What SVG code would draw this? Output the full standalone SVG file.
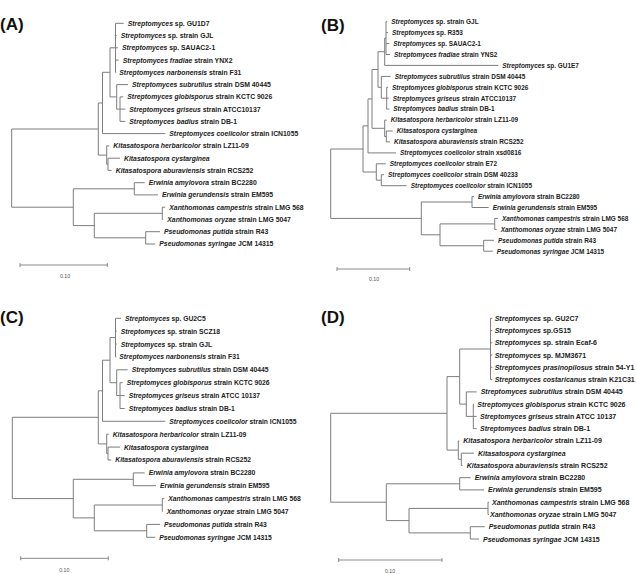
<svg xmlns="http://www.w3.org/2000/svg" width="636" height="574" viewBox="0 0 636 574">
<style>
.br{fill:none;stroke:#7d7d7d;stroke-width:1}
.sb{fill:none;stroke:#8a8a8a;stroke-width:1}
.t{font-family:"Liberation Sans",Arial,sans-serif;font-weight:bold;fill:#222}
.i{font-style:italic}
.pl{font-family:"Liberation Sans",Arial,sans-serif;font-weight:bold;font-size:17px;fill:#111}
.sl{font-family:"Liberation Sans",Arial,sans-serif;font-size:5.2px;fill:#555;text-anchor:middle}
.sA{font-size:6.85px}.sB{font-size:6.45px}.sC{font-size:6.75px}.sD{font-size:7px}
</style>
<rect width="636" height="574" fill="#fff"/>

<g id="panel-A">
<text class="pl" x="0" y="29.8">(A)</text>
<g id="A-connectors">
<path class="br" d="M11.7 129V207.2M11.7 129H98.3M11.7 207.2H73.3M98.3 103V155.1M98.3 103H102.5M98.3 155.1H106.7M102.5 72.3V133.6M102.5 72.3H110M102.5 133.6H165.3M110 47.8V96.9M110 47.8H115.5M110 96.9H116.7M115.5 23.3V72.3M115.5 23.3H123.7M115.5 35.6H116.7M115.5 47.8H118M115.5 60.1H118.7M115.5 72.3H116.3M116.7 84.6V109.1M116.7 84.6H128M116.7 109.1H120M120 96.9V121.4M120 96.9H123.3M120 109.1H125.3M120 121.4H125.3M106.7 145.9V164.3M106.7 145.9H109.3M106.7 164.3H108M108 158.2V170.4M108 158.2H120M108 170.4H111.7M73.3 188.8V225.6M73.3 188.8H134.3M73.3 225.6H94.3M134.3 182.7V194.9M134.3 182.7H144.7M134.3 194.9H158M94.3 213.3V237.8M94.3 213.3H162.3M94.3 237.8H145.7M162.3 207.2V219.5M162.3 207.2H165.3M162.3 219.5H163.3M145.7 231.7V244M145.7 231.7H160M145.7 244H155.3"/>
<path class="sb" d="M20 265H107.3M20 263V267M107.3 263V267"/>
</g>
<text class="sl" x="65" y="277.5">0.10</text>
<g id="A-leaves" class="t sA">
<text id="A1" x="127.7" y="25.75"><tspan class="i">Streptomyces</tspan> sp. GU1D7</text>
<text id="A2" x="120.7" y="38.05"><tspan class="i">Streptomyces</tspan> sp. strain GJL</text>
<text id="A3" x="122" y="50.25"><tspan class="i">Streptomyces</tspan> sp. SAUAC2-1</text>
<text id="A4" x="122.7" y="62.55"><tspan class="i">Streptomyces fradiae</tspan> strain YNX2</text>
<text id="A5" x="119.3" y="74.75"><tspan class="i">Streptomyces narbonensis</tspan> strain F31</text>
<text id="A6" x="132" y="87.05"><tspan class="i">Streptomyces subrutilus</tspan> strain DSM 40445</text>
<text id="A7" x="127.3" y="99.35"><tspan class="i">Streptomyces globisporus</tspan> strain KCTC 9026</text>
<text id="A8" x="129.3" y="111.55"><tspan class="i">Streptomyces griseus</tspan> strain ATCC10137</text>
<text id="A9" x="129.3" y="123.85"><tspan class="i">Streptomyces badius</tspan> strain DB-1</text>
<text id="A10" x="169.3" y="136.05"><tspan class="i">Streptomyces coelicolor</tspan> strain ICN1055</text>
<text id="A11" x="113.3" y="148.35"><tspan class="i">Kitasatospora herbaricolor</tspan> strain LZ11-09</text>
<text id="A12" x="124" y="160.65"><tspan class="i">Kitasatospora cystarginea</tspan></text>
<text id="A13" x="115.7" y="172.85"><tspan class="i">Kitasatospora aburaviensis</tspan> strain RCS252</text>
<text id="A14" x="148.7" y="185.15"><tspan class="i">Erwinia amylovora</tspan> strain BC2280</text>
<text id="A15" x="162" y="197.35"><tspan class="i">Erwinia gerundensis</tspan> strain EM595</text>
<text id="A16" x="169.3" y="209.65"><tspan class="i">Xanthomonas campestris</tspan> strain LMG 568</text>
<text id="A17" x="167.3" y="221.95"><tspan class="i">Xanthomonas oryzae</tspan> strain LMG 5047</text>
<text id="A18" x="164" y="234.15"><tspan class="i">Pseudomonas putida</tspan> strain R43</text>
<text id="A19" x="159.3" y="246.45"><tspan class="i">Pseudomonas syringae</tspan> JCM 14315</text>
</g>
</g>

<g id="panel-B">
<text class="pl" x="321" y="31.4">(B)</text>
<g id="B-connectors">
<path class="br" d="M330.7 149V218.4M330.7 149H363M330.7 218.4H421.3M363 125.9V172M363 125.9H368M363 172H376.3M368 98.9V152.9M368 98.9H372M368 152.9H396M372 69.5V128.3M372 69.5H378M372 128.3H384.7M378 51.75V87.3M378 51.75H384.7M378 87.3H381.3M384.7 38.1V65.4M384.7 38.1H386M384.7 65.4H498.3M386 21.7V54.5M386 21.7H387.3M386 32.6H388M386 43.6H389.3M386 54.5H390M381.3 76.4V98.2M381.3 76.4H390.7M381.3 98.2H386.7M386.7 87.3V109.1M386.7 87.3H388M386.7 98.2H388.7M386.7 109.1H389.3M384.7 120.1V136.5M384.7 120.1H386.7M384.7 136.5H386.3M386.3 131V141.9M386.3 131H392.7M386.3 141.9H390M376.3 163.8V180.2M376.3 163.8H385.7M376.3 180.2H381.3M381.3 174.7V185.7M381.3 174.7H384M381.3 185.7H406.7M421.3 202V234.8M421.3 202H472M421.3 234.8H440M472 196.6V207.5M472 196.6H474M472 207.5H488.7M440 223.9V245.75M440 223.9H494.7M440 245.75H483.7M494.7 218.4V229.4M494.7 218.4H498M494.7 229.4H496.7M483.7 240.3V251.2M483.7 240.3H494M483.7 251.2H492.7"/>
<path class="sb" d="M337 269H409.7M337 267V271M409.7 267V271"/>
</g>
<text class="sl" x="374" y="281">0.10</text>
<g id="B-leaves" class="t sB">
<text id="B1" x="391.3" y="24"><tspan class="i">Streptomyces</tspan> sp. strain GJL</text>
<text id="B2" x="392" y="34.9"><tspan class="i">Streptomyces</tspan> sp. R353</text>
<text id="B3" x="393.3" y="45.9"><tspan class="i">Streptomyces</tspan> sp. SAUAC2-1</text>
<text id="B4" x="394" y="56.8"><tspan class="i">Streptomyces fradiae</tspan> strain YNS2</text>
<text id="B5" x="502.3" y="67.7"><tspan class="i">Streptomyces</tspan> sp. GU1E7</text>
<text id="B6" x="394.7" y="78.7"><tspan class="i">Streptomyces subrutilus</tspan> strain DSM 40445</text>
<text id="B7" x="392" y="89.6"><tspan class="i">Streptomyces globisporus</tspan> strain KCTC 9026</text>
<text id="B8" x="392.7" y="100.5"><tspan class="i">Streptomyces griseus</tspan> strain ATCC10137</text>
<text id="B9" x="393.3" y="111.4"><tspan class="i">Streptomyces badius</tspan> strain DB-1</text>
<text id="B10" x="390.7" y="122.4"><tspan class="i">Kitasatospora herbaricolor</tspan> strain LZ11-09</text>
<text id="B11" x="396.7" y="133.3"><tspan class="i">Kitasatospora cystarginea</tspan></text>
<text id="B12" x="394" y="144.2"><tspan class="i">Kitasatospora aburaviensis</tspan> strain RCS252</text>
<text id="B13" x="400" y="155.2"><tspan class="i">Streptomyces coelicolor</tspan> strain xsd0816</text>
<text id="B14" x="389.7" y="166.1"><tspan class="i">Streptomyces coelicolor</tspan> strain E72</text>
<text id="B15" x="388" y="177"><tspan class="i">Streptomyces coelicolor</tspan> strain DSM 40233</text>
<text id="B16" x="410.7" y="188"><tspan class="i">Streptomyces coelicolor</tspan> strain ICN1055</text>
<text id="B17" x="478" y="198.9"><tspan class="i">Erwinia amylovora</tspan> strain BC2280</text>
<text id="B18" x="492.7" y="209.8"><tspan class="i">Erwinia gerundensis</tspan> strain EM595</text>
<text id="B19" x="502" y="220.7"><tspan class="i">Xanthomonas campestris</tspan> strain LMG 568</text>
<text id="B20" x="500.7" y="231.7"><tspan class="i">Xanthomonas oryzae</tspan> strain LMG 5047</text>
<text id="B21" x="498" y="242.6"><tspan class="i">Pseudomonas putida</tspan> strain R43</text>
<text id="B22" x="496.7" y="253.5"><tspan class="i">Pseudomonas syringae</tspan> JCM 14315</text>
</g>
</g>

<g id="panel-C">
<text class="pl" x="0" y="323.1">(C)</text>
<g id="C-connectors">
<path class="br" d="M12.3 417.3V498.6M12.3 417.3H98.3M12.3 498.6H73.3M98.3 390.8V443.9M98.3 390.8H102.5M98.3 443.9H106.7M102.5 360.2V421.3M102.5 360.2H110M102.5 421.3H165.3M110 337.6V382.7M110 337.6H115.5M110 382.7H116.7M115.5 318.3V356.9M115.5 318.3H121M115.5 331.2H116.7M115.5 344.1H116.7M115.5 356.9H116.3M116.7 369.8V395.6M116.7 369.8H127.7M116.7 395.6H120M120 382.7V408.5M120 382.7H122.7M120 395.6H124.7M120 408.5H124.7M106.7 434.2V453.5M106.7 434.2H108.7M106.7 453.5H108M108 447.1V460M108 447.1H120M108 460H111.3M73.3 479.3V517.9M73.3 479.3H133.3M73.3 517.9H94.3M133.3 472.9V485.7M133.3 472.9H144.7M133.3 485.7H156M94.3 505V530.8M94.3 505H162.3M94.3 530.8H146.7M162.3 498.6V511.5M162.3 498.6H164.3M162.3 511.5H162.7M146.7 524.4V537.3M146.7 524.4H160M146.7 537.3H155.3"/>
<path class="sb" d="M20.7 558.3H108.3M20.7 556.3V560.3M108.3 556.3V560.3"/>
</g>
<text class="sl" x="64.3" y="571.8">0.10</text>
<g id="C-leaves" class="t sC">
<text id="C1" x="125" y="320.7"><tspan class="i">Streptomyces</tspan> sp. GU2C5</text>
<text id="C2" x="120.7" y="333.6"><tspan class="i">Streptomyces</tspan> sp. strain SCZ18</text>
<text id="C3" x="120.7" y="346.5"><tspan class="i">Streptomyces</tspan> sp. strain GJL</text>
<text id="C4" x="119.3" y="359.3"><tspan class="i">Streptomyces narbonensis</tspan> strain F31</text>
<text id="C5" x="131.7" y="372.2"><tspan class="i">Streptomyces subrutilus</tspan> strain DSM 40445</text>
<text id="C6" x="126.7" y="385.1"><tspan class="i">Streptomyces globisporus</tspan> strain KCTC 9026</text>
<text id="C7" x="128.7" y="398"><tspan class="i">Streptomyces griseus</tspan> strain ATCC 10137</text>
<text id="C8" x="128.7" y="410.9"><tspan class="i">Streptomyces badius</tspan> strain DB-1</text>
<text id="C9" x="169.3" y="423.7"><tspan class="i">Streptomyces coelicolor</tspan> strain ICN1055</text>
<text id="C10" x="112.7" y="436.6"><tspan class="i">Kitasatospora herbaricolor</tspan> strain LZ11-09</text>
<text id="C11" x="124" y="449.5"><tspan class="i">Kitasatospora cystarginea</tspan></text>
<text id="C12" x="115.3" y="462.4"><tspan class="i">Kitasatospora aburaviensis</tspan> strain RCS252</text>
<text id="C13" x="148.7" y="475.3"><tspan class="i">Erwinia amylovora</tspan> strain BC2280</text>
<text id="C14" x="160" y="488.1"><tspan class="i">Erwinia gerundensis</tspan> strain EM595</text>
<text id="C15" x="168.3" y="501"><tspan class="i">Xanthomonas campestris</tspan> strain LMG 568</text>
<text id="C16" x="166.7" y="513.9"><tspan class="i">Xanthomonas oryzae</tspan> strain LMG 5047</text>
<text id="C17" x="164" y="526.8"><tspan class="i">Pseudomonas putida</tspan> strain R43</text>
<text id="C18" x="159.3" y="539.7"><tspan class="i">Pseudomonas syringae</tspan> JCM 14315</text>
</g>
</g>

<g id="panel-D">
<text class="pl" x="321" y="323">(D)</text>
<g id="D-connectors">
<path class="br" d="M330.7 413.3V502.2M330.7 413.3H447M330.7 502.2H386.3M447 376.6V450.1M447 376.6H459.7M447 450.1H458.3M459.7 349V404.1M459.7 349H490.5M459.7 404.1H466.3M490.5 318.3V379.6M490.5 318.3H492.3M490.5 330.6H492.3M490.5 342.8H492.3M490.5 355.1H492.3M490.5 367.3H492.3M490.5 379.6H492.3M466.3 391.9V416.4M466.3 391.9H476.7M466.3 416.4H473.3M473.3 404.1V428.6M473.3 404.1H474M473.3 416.4H476.7M473.3 428.6H476.7M458.3 440.9V459.3M458.3 440.9H459.3M458.3 459.3H461.3M461.3 453.2V465.4M461.3 453.2H474M461.3 465.4H462.7M386.3 483.8V520.6M386.3 483.8H459.7M386.3 520.6H409M459.7 477.7V489.9M459.7 477.7H470.7M459.7 489.9H484M409 508.4V532.9M409 508.4H488M409 532.9H470.3M488 502.2V514.5M488 502.2H489M488 514.5H489M470.3 526.7V539M470.3 526.7H484.7M470.3 539H479"/>
<path class="sb" d="M338.7 560H442M338.7 558V562M442 558V562"/>
</g>
<text class="sl" x="390" y="573.3">0.10</text>
<g id="D-leaves" class="t sD">
<text id="D1" x="494.7" y="320.8"><tspan class="i">Streptomyces</tspan> sp. GU2C7</text>
<text id="D2" x="494.7" y="333.1"><tspan class="i">Streptomyces</tspan> sp.GS15</text>
<text id="D3" x="494.7" y="345.3"><tspan class="i">Streptomyces</tspan> sp. strain Ecaf-6</text>
<text id="D4" x="494.7" y="357.6"><tspan class="i">Streptomyces</tspan> sp. MJM3671</text>
<text id="D5" x="494.7" y="369.8"><tspan class="i">Streptomyces prasinopilosus</tspan> strain 54-Y1</text>
<text id="D6" x="494.7" y="382.1"><tspan class="i">Streptomyces costaricanus</tspan> strain K21C31</text>
<text id="D7" x="480.7" y="394.4"><tspan class="i">Streptomyces subrutilus</tspan> strain DSM 40445</text>
<text id="D8" x="477.3" y="406.6"><tspan class="i">Streptomyces globisporus</tspan> strain KCTC 9026</text>
<text id="D9" x="480" y="418.9"><tspan class="i">Streptomyces griseus</tspan> strain ATCC 10137</text>
<text id="D10" x="480" y="431.1"><tspan class="i">Streptomyces badius</tspan> strain DB-1</text>
<text id="D11" x="463.3" y="443.4"><tspan class="i">Kitasatospora herbaricolor</tspan> strain LZ11-09</text>
<text id="D12" x="478" y="455.7"><tspan class="i">Kitasatospora cystarginea</tspan></text>
<text id="D13" x="466.7" y="467.9"><tspan class="i">Kitasatospora aburaviensis</tspan> strain RCS252</text>
<text id="D14" x="474.7" y="480.2"><tspan class="i">Erwinia amylovora</tspan> strain BC2280</text>
<text id="D15" x="488" y="492.4"><tspan class="i">Erwinia gerundensis</tspan> strain EM595</text>
<text id="D16" x="492" y="504.7"><tspan class="i">Xanthomonas campestris</tspan> strain LMG 568</text>
<text id="D17" x="490" y="517"><tspan class="i">Xanthomonas oryzae</tspan> strain LMG 5047</text>
<text id="D18" x="488.7" y="529.2"><tspan class="i">Pseudomonas putida</tspan> strain R43</text>
<text id="D19" x="483" y="541.5"><tspan class="i">Pseudomonas syringae</tspan> JCM 14315</text>
</g>
</g>
</svg>
